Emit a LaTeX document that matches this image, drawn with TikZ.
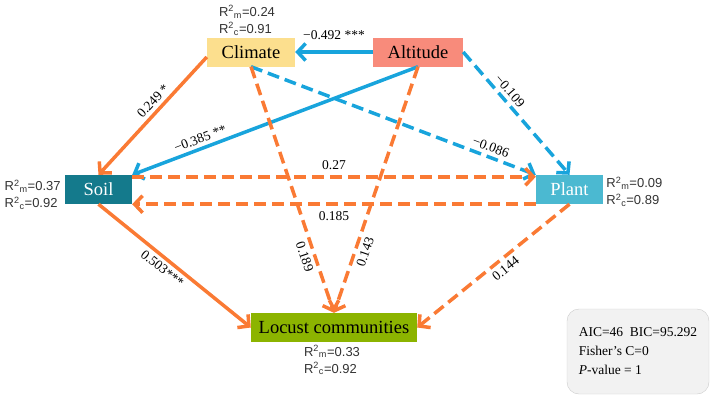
\documentclass[tikz,border=0pt]{standalone}
\usepackage{fontspec}
\setmainfont{Liberation Serif}
\newfontfamily\rsqfont{Liberation Sans}
\usetikzlibrary{arrows.meta,calc,positioning}
\definecolor{orangeline}{RGB}{250,122,52}
\definecolor{blueline}{RGB}{24,164,220}
\definecolor{climatefill}{RGB}{252,223,142}
\definecolor{altitudefill}{RGB}{248,139,123}
\definecolor{soilfill}{RGB}{20,122,140}
\definecolor{plantfill}{RGB}{75,185,209}
\definecolor{locustfill}{RGB}{140,180,0}
\newcommand{\Rsq}[2]{R\textsuperscript{2}\textsubscript{#1}=#2}

\begin{document}
\begin{tikzpicture}[
  x=1pt,y=-1pt,
  every node/.style={font=\fontsize{13.5}{16}\selectfont},
  box/.style={inner sep=0pt,minimum height=29pt,font=\fontsize{18.5}{20}\selectfont},
  rsq/.style={align=left,inner sep=1pt,text=black!80,font=\rsqfont\fontsize{13}{17}\selectfont},
  arr/.style={-{Straight Barb[length=8pt,width=17pt]},line width=3.5pt},
  dsh/.style={arr,dash pattern=on 12pt off 6pt},
  lbl/.style={inner sep=3.5pt,sloped,text=black}
]
\useasboundingbox (0,0) rectangle (716,400);
% variables
\node[box,fill=climatefill,minimum width=88pt] (Climate) at (251,52) {Climate};
\node[box,fill=altitudefill,minimum width=90pt] (Altitude) at (418,52) {Altitude};
\node[box,fill=soilfill,text=white,minimum width=67pt] (Soil) at (98.5,189.5) {Soil};
\node[box,fill=plantfill,text=white,minimum width=67pt] (Plant) at (569.5,189.5) {Plant};
\node[box,fill=locustfill,minimum width=166pt] (Locust) at (334,327.5) {Locust communities};
% R2 values
\node[rsq,above=1pt of Climate,xshift=-4pt] (rsqC) {\Rsq{m}{0.24}\\\Rsq{c}{0.91}};
\node[rsq,left=3pt of Soil,yshift=-5pt] (rsqS) {\Rsq{m}{0.37}\\\Rsq{c}{0.92}};
\node[rsq,right=2pt of Plant,yshift=-2pt] (rsqP) {\Rsq{m}{0.09}\\\Rsq{c}{0.89}};
\node[rsq,below=2pt of Locust,xshift=-2pt] (rsqL) {\Rsq{m}{0.33}\\\Rsq{c}{0.92}};
% paths
\draw[arr,blueline] (Altitude) -- node[above=7pt,text=black]{−0.492 ***} (Climate);
\draw[arr,orangeline] ($(Climate.west)+(0,5)$) -- node[lbl,above,pos=.43]{0.249 *} (Soil.north);
\draw[arr,blueline] (Altitude.south) -- node[lbl,above,pos=.75]{−0.385 **} (Soil.north east);
\draw[dsh,blueline] (Climate.south) -- node[lbl,above,pos=.83]{−0.086} (Plant.north west);
\draw[dsh,blueline] (Altitude.east) -- node[lbl,above,pos=.37]{−0.109} (Plant.north);
\draw[dsh,orangeline] (Climate.south) -- node[lbl,below,pos=.76]{0.189} (Locust.north);
\draw[dsh,orangeline] (Altitude.south) -- node[lbl,below,pos=.74]{0.143} (Locust.north);
\draw[dsh,orangeline] ($(Soil.north east)+(0,2)$) -- node[above=2pt,text=black]{0.27} ($(Plant.north west)+(0,2)$);
\draw[dsh,orangeline] (Plant.south west) -- node[below=2pt,text=black]{0.185} (Soil.south east);
\draw[arr,orangeline] (Soil.south) -- node[lbl,below,pos=.46]{0.503***} (Locust.west);
\draw[dsh,orangeline] (Plant.south) -- node[lbl,below,pos=.46]{0.144} (Locust.east);
% model fit
\node[draw=black!20,fill=black!5,rounded corners=12pt,align=left,
  minimum width=142pt,minimum height=85pt,inner xsep=10pt,
  font=\fontsize{13.5}{19}\selectfont] (fit) at (638,351.5)
  {AIC=46\ \ BIC=95.292\\Fisher’s C=0\\\textit{P}-value = 1};
\end{tikzpicture}
\end{document}
